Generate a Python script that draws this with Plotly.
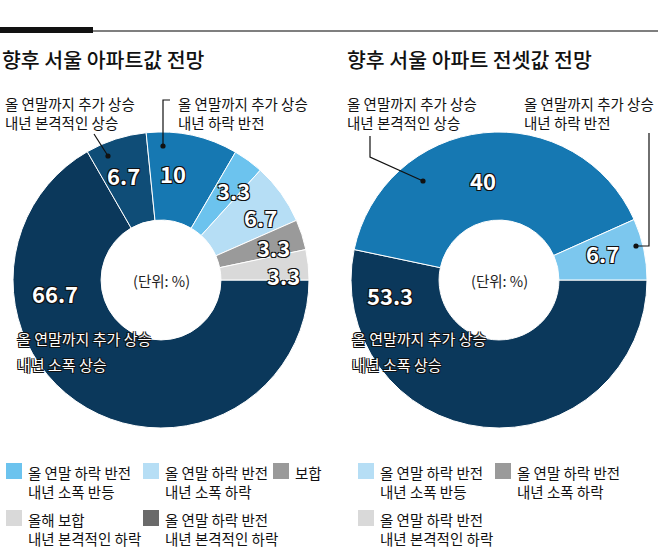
import plotly.graph_objects as go

W, H = 658, 553
FONT = "Noto Sans CJK KR"

# left chart: 향후 서울 아파트값 전망
left_labels = ["올 연말까지 추가 상승 내년 소폭 상승",
               "올 연말까지 추가 상승 내년 본격적인 상승",
               "올 연말까지 추가 상승 내년 하락 반전",
               "올 연말 하락 반전 내년 소폭 반등",
               "올 연말 하락 반전 내년 소폭 하락",
               "보합",
               "올해 보합 내년 본격적인 하락"]
left_values = [66.7, 6.7, 10, 3.3, 6.7, 3.3, 3.3]
left_colors = ["#0b385b", "#0f4d77", "#1678b2", "#6cc3ee", "#b6def5", "#9a9a9a", "#d9d9d9"]

# right chart: 향후 서울 아파트 전셋값 전망
right_labels = ["올 연말까지 추가 상승 내년 소폭 상승",
                "올 연말까지 추가 상승 내년 본격적인 상승",
                "올 연말까지 추가 상승 내년 하락 반전"]
right_values = [53.3, 40, 6.7]
right_colors = ["#0b385b", "#1678b2", "#7cc7ee"]

titles = ["향후 서울 아파트값 전망", "향후 서울 아파트 전셋값 전망"]

# legend entries (text, colour)
left_legend = [("올 연말 하락 반전<br>내년 소폭 반등", "#6cc3ee"),
               ("올 연말 하락 반전<br>내년 소폭 하락", "#b6def5"),
               ("보합", "#9a9a9a"),
               ("올해 보합<br>내년 본격적인 하락", "#d9d9d9"),
               ("올 연말 하락 반전<br>내년 본격적인 하락", "#6a6a6a")]
right_legend = [("올 연말 하락 반전<br>내년 소폭 반등", "#b6def5"),
                ("올 연말 하락 반전<br>내년 소폭 하락", "#9a9a9a"),
                ("올 연말 하락 반전<br>내년 본격적인 하락", "#d9d9d9")]


def X(px):
    return px / W


def Y(py):
    return 1 - py / H


def pie(values, labels, colors, cx, cy, r):
    return go.Pie(values=values, labels=labels, sort=False, direction="clockwise",
                  rotation=90, hole=0.405, textinfo="none", hoverinfo="label+value",
                  marker=dict(colors=colors, line=dict(color="white", width=1)),
                  domain=dict(x=[X(cx - r), X(cx + r)], y=[Y(cy + r), Y(cy - r)]),
                  showlegend=False)


fig = go.Figure()
fig.add_trace(pie(left_values, left_labels, left_colors, 161, 280, 148))
fig.add_trace(pie(right_values, right_labels, right_colors, 499, 280, 148))

ann = []
shapes = []

OUTLINE = "-1px -1px 0 #111, 1px -1px 0 #111, -1px 1px 0 #111, 1px 1px 0 #111"


def text(x, y, s, size=15, color="#111", weight="normal", anchor="left", shadow=None):
    f = dict(family=FONT, size=size, color=color, weight=weight)
    if shadow:
        f["shadow"] = shadow
    ann.append(dict(x=X(x), y=Y(y), xref="paper", yref="paper", text=s, showarrow=False,
                    xanchor=anchor, yanchor="middle", font=f, align="left"))


# header rules
shapes.append(dict(type="line", xref="paper", yref="paper", x0=X(93), x1=1, y0=Y(31), y1=Y(31),
                   line=dict(color="#555", width=1.5)))
shapes.append(dict(type="line", xref="paper", yref="paper", x0=0, x1=X(93), y0=Y(30), y1=Y(30),
                   line=dict(color="#111", width=6)))

# titles
text(0, 59, titles[0], size=20.5, weight=500)
text(345, 59, titles[1], size=20.5, weight=500)

# callout labels
text(3, 113, "올 연말까지 추가 상승<br>내년 본격적인 상승", size=14.5)
text(176, 113, "올 연말까지 추가 상승<br>내년 하락 반전", size=14.5)
text(345, 113, "올 연말까지 추가 상승<br>내년 본격적인 상승", size=14.5)
text(522, 113, "올 연말까지 추가 상승<br>내년 하락 반전", size=14.5)


def path(points):
    d = "M " + " L ".join(f"{X(x)},{Y(y)}" for x, y in points)
    shapes.append(dict(type="path", xref="paper", yref="paper", path=d,
                       line=dict(color="#111", width=1.2)))
    x, y = points[-1]
    shapes.append(dict(type="circle", xref="paper", yref="paper",
                       x0=X(x - 2.6), x1=X(x + 2.6), y0=Y(y + 2.6), y1=Y(y - 2.6),
                       fillcolor="#111", line=dict(width=0)))


path([(94, 134), (108, 156)])
path([(170, 100), (163, 100), (163, 146)])
path([(370, 136), (370, 157), (423, 181)])
path([(649, 133), (649, 246), (636, 246)])

# values on slices
fmt = lambda v: f"{v:g}"
left_pos = [(55, 293), (123, 175), (173, 173), (233, 190), (260, 217), (273, 247), (283, 275)]
for v, (x, y) in zip(left_values, left_pos):
    text(x, y, fmt(v), size=22, color="white", weight="bold", anchor="center", shadow=OUTLINE)
right_pos = [(390, 295), (483, 180), (602, 253)]
for v, (x, y) in zip(right_values, right_pos):
    text(x, y, fmt(v), size=22, color="white", weight="bold", anchor="center", shadow=OUTLINE)

# direct labels on the big slices
for x0 in (15, 350):
    text(x0, 338, "올 연말까지 추가 상승", color="white", shadow=OUTLINE)
    text(x0, 364, "내년 소폭 상승", color="white", shadow=OUTLINE)

# unit in the hole
text(161, 280, "(단위: %)", size=14.5, color="#222", anchor="center")
text(499, 280, "(단위: %)", size=14.5, color="#222", anchor="center")


# legends
def legend_item(x, y, label, color):
    shapes.append(dict(type="rect", xref="paper", yref="paper", x0=X(x), x1=X(x + 16),
                       y0=Y(y + 16), y1=Y(y), fillcolor=color, line=dict(width=0)))
    ann.append(dict(x=X(x + 20), y=Y(y - 3), xref="paper", yref="paper", text=label,
                    showarrow=False, xanchor="left", yanchor="top", align="left",
                    font=dict(family=FONT, size=14.5, color="#111")))


left_slots = [(6, 463), (143, 463), (273, 463), (6, 510), (143, 510)]
for (x, y), (lab, col) in zip(left_slots, left_legend):
    legend_item(x, y, lab, col)
right_slots = [(358, 463), (495, 463), (358, 510)]
for (x, y), (lab, col) in zip(right_slots, right_legend):
    legend_item(x, y, lab, col)

fig.update_layout(width=W, height=H, margin=dict(l=0, r=0, t=0, b=0),
                  paper_bgcolor="white", plot_bgcolor="white",
                  annotations=ann, shapes=shapes)
fig.write_html("out.html", config={"displayModeBar": False},
               post_script="document.body.style.margin='0';")
